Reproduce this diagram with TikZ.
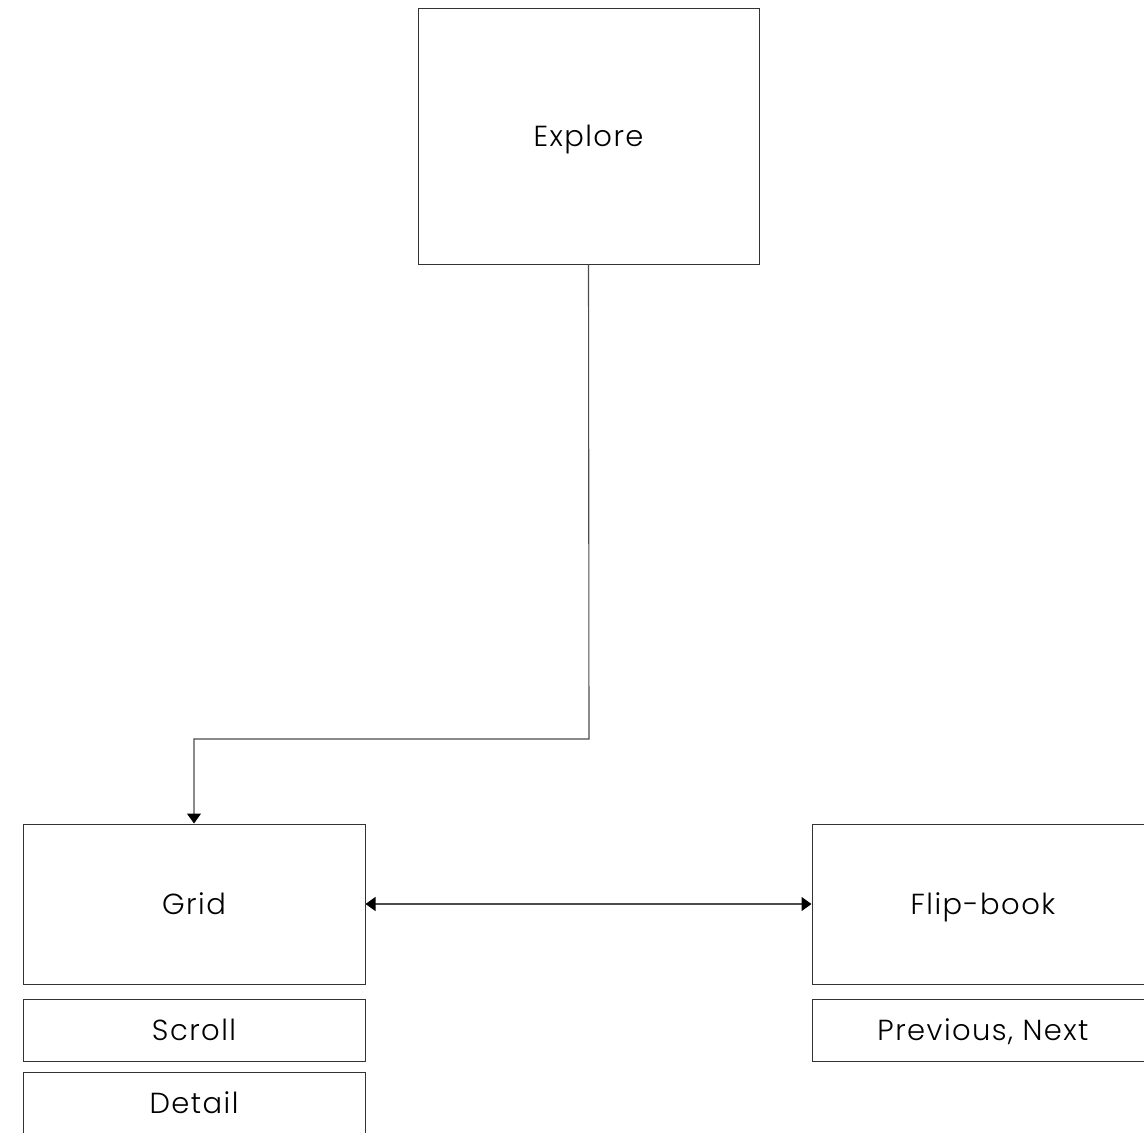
\documentclass[tikz,border=0pt]{standalone}
\usepackage{fontspec}
\setmainfont{Poppins}[UprightFont=* Light,LetterSpace=5]
\usetikzlibrary{arrows.meta}
\begin{document}
\begin{tikzpicture}[x=1pt,y=-1pt,
  box/.style={draw=black!80,line width=1pt,inner sep=0pt,text height=20pt,text depth=0pt,
    font=\fontsize{29}{34}\selectfont},
  conn/.style={draw=black!70,line width=1.1pt},
  mytip/.tip={Triangle[length=10pt,width=14pt,fill=black,color=black]}]
\useasboundingbox (0,0) rectangle (1144,1133);
\clip (0,0) rectangle (1144,1133);
\fill[white] (0,0) rectangle (1144,1133);
\node[box,minimum width=341pt,minimum height=256pt] (explore) at (588.5,136) {Explore};
\node[box,minimum width=342pt,minimum height=160pt] (grid) at (194,904) {Grid};
\node[box,minimum width=342pt,minimum height=62pt] (scroll) at (194,1030) {Scroll};
\node[box,minimum width=342pt,minimum height=62pt] (detail) at (194,1103) {Detail};
\node[box,minimum width=342pt,minimum height=160pt] (flip) at (983,904) {Flip-book};
\node[box,minimum width=342pt,minimum height=62pt] (prev) at (983,1030) {Previous, Next};
\coordinate (bend) at (589,739);
\draw[conn,-mytip] (explore.south) -- (bend) -| (grid.north);
\draw[conn,mytip-mytip] (grid.east) -- (flip.west);
\end{tikzpicture}
\end{document}
